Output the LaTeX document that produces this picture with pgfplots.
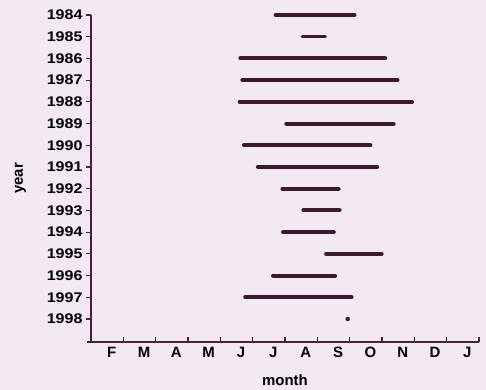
\documentclass[border=0pt]{standalone}
\usepackage{pgfplots}
\pgfplotsset{compat=1.18}
\usepackage{fontspec}
\setmainfont{Liberation Sans}
\newfontfamily\widefont[FakeStretch=1.15]{Liberation Sans}
\definecolor{bg}{HTML}{F2E9F2}
\definecolor{ink}{HTML}{3B1A2D}
\definecolor{axc}{HTML}{4A1F3A}
\begin{document}
\begin{tikzpicture}
\fill[bg] (-91bp,-48bp) rectangle (395bp,342bp);
\begin{axis}[
  scale only axis,
  width=388bp, height=327bp,
  xmin=1, xmax=13,
  ymin=1984, ymax=1999.06,
  y dir=reverse,
  axis lines*=left,
  axis line style={axc, line width=1.3pt, -},
  x axis line style={shorten <=-4bp},
  ytick={1984,...,1998},
  ytick style={draw=axc, line width=1.1pt},
  yticklabel style={/pgf/number format/1000 sep={}},
  /pgf/number format/assume math mode=true,
  ytick align=outside,
  xtick align=inside,
  major tick length=5bp,
  xtick={1.64,2.64,...,12.64},
  xticklabels={F,M,A,M,J,J,A,S,O,N,D,J},
  xtick style={draw=none},
  extra x ticks={2,3,...,13},
  extra x tick labels={},
  extra x tick style={xtick align=inside, major tick length=5bp, xtick style={draw=axc, line width=1.1pt}},
  tick label style={font=\widefont\bfseries\fontsize{14}{14}\selectfont, text=black},
  xticklabel style={font=\bfseries\fontsize{15}{15}\selectfont, yshift=-2bp},
  xlabel={month}, ylabel={year},
  label style={font=\bfseries\fontsize{15}{15}\selectfont},
  xlabel style={yshift=-10bp},
  ylabel style={yshift=14bp},
  clip=false,
]
\addplot[ink, line width=4bp, line cap=round] coordinates {(6.71,1984) (9.15,1984)};
\addplot[ink, line width=3bp, line cap=round] coordinates {(7.53,1985) (8.25,1985)};
\addplot[ink, line width=4bp, line cap=round] coordinates {(5.62,1986) (10.10,1986)};
\addplot[ink, line width=4bp, line cap=round] coordinates {(5.68,1987) (10.48,1987)};
\addplot[ink, line width=4bp, line cap=round] coordinates {(5.60,1988) (10.93,1988)};
\addplot[ink, line width=4bp, line cap=round] coordinates {(7.04,1989) (10.36,1989)};
\addplot[ink, line width=4bp, line cap=round] coordinates {(5.73,1990) (9.64,1990)};
\addplot[ink, line width=4bp, line cap=round] coordinates {(6.16,1991) (9.85,1991)};
\addplot[ink, line width=4bp, line cap=round] coordinates {(6.92,1992) (8.66,1992)};
\addplot[ink, line width=4bp, line cap=round] coordinates {(7.57,1993) (8.69,1993)};
\addplot[ink, line width=4bp, line cap=round] coordinates {(6.94,1994) (8.51,1994)};
\addplot[ink, line width=4bp, line cap=round] coordinates {(8.27,1995) (9.99,1995)};
\addplot[ink, line width=4bp, line cap=round] coordinates {(6.63,1996) (8.55,1996)};
\addplot[ink, line width=4bp, line cap=round] coordinates {(5.77,1997) (9.06,1997)};
\addplot[ink, only marks, mark=*, mark size=2bp] coordinates {(8.94,1998)};
\end{axis}
\pgfresetboundingbox
\useasboundingbox (-91bp,-48bp) rectangle (395bp,342bp);
\end{tikzpicture}
\end{document}
